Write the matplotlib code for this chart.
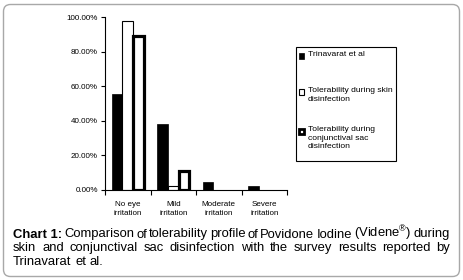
import matplotlib
matplotlib.use("Agg")
import matplotlib.pyplot as plt
import numpy as np
from matplotlib.patches import Rectangle, FancyBboxPatch
from matplotlib.transforms import IdentityTransform

plt.rcParams['font.family'] = ['Liberation Sans', 'DejaVu Sans']
plt.rcParams['mathtext.fontset'] = 'custom'
plt.rcParams['mathtext.rm'] = 'Liberation Sans'

# data
categories = ["No eye\nirritation", "Mild\nirritation", "Moderate\nirritation", "Severe\nirritation"]
trinavarat = [0.555, 0.382, 0.046, 0.025]
skin = [0.9778, 0.0222, 0.0, 0.0]
conjunctival = [0.8889, 0.1111, 0.0, 0.0]
series_names = ["Trinavarat et al",
                "Tolerability during skin\ndisinfection",
                "Tolerability during\nconjunctival sac\ndisinfection"]
yticks = [0, 0.2, 0.4, 0.6, 0.8, 1.0]

W, H = 463, 280
fig = plt.figure(figsize=(W / 100, H / 100), dpi=100)

# rounded frame around everything
frame = FancyBboxPatch((3.5, 3.5), W - 7, H - 8, boxstyle="round,pad=0,rounding_size=7",
                       transform=IdentityTransform(), facecolor="none",
                       edgecolor="#a8a8a8", linewidth=1.0, zorder=-5)
fig.add_artist(frame)

ax = fig.add_axes([105 / W, 90 / H, 182 / W, 173 / H])
ax.patch.set_alpha(0)
x = np.arange(len(categories))
bw = 0.235
fs = 5.8

ax.bar(x - bw, trinavarat, bw, color="black", edgecolor="black", linewidth=0.5)
ax.bar(x, skin, bw, color="white", edgecolor="black",
       linewidth=[0.8 if v > 0 else 0 for v in skin])
ax.bar(x + bw, conjunctival, bw, color="white", edgecolor="black",
       linewidth=[2.3 if v > 0 else 0 for v in conjunctival])

ax.set_xlim(-0.5, len(categories) - 0.5)
ax.set_ylim(0, 1.0)
ax.set_yticks(yticks)
ax.set_yticklabels(["%.2f%%" % (v * 100) for v in yticks], fontsize=fs)
ax.tick_params(axis="y", length=3, width=0.8, pad=2)
ax.set_xticks(np.arange(-0.5, len(categories)))
ax.set_xticklabels([])
ax.tick_params(axis="x", which="major", length=3.5, width=0.8)
ax.set_xticks(x, minor=True)
ax.set_xticklabels(categories, minor=True, fontsize=fs, linespacing=1.45)
ax.tick_params(axis="x", which="minor", length=0, pad=8)
for s in ["top", "right"]:
    ax.spines[s].set_visible(False)
for s in ["left", "bottom"]:
    ax.spines[s].set_linewidth(0.8)

# legend box, drawn by hand so the markers sit on the first text line
def px(xp, yp):
    return xp / W, 1 - yp / H

lx0, ly0, lx1, ly1 = 296, 47, 396, 161
fig.add_artist(Rectangle(px(lx0, ly1), (lx1 - lx0) / W, (ly1 - ly0) / H,
                         transform=fig.transFigure, facecolor="white",
                         edgecolor="black", linewidth=0.8))
entry_y = [56, 92, 131]
styles = [dict(facecolor="black", edgecolor="black", linewidth=0.5),
          dict(facecolor="white", edgecolor="black", linewidth=0.8),
          dict(facecolor="white", edgecolor="black", linewidth=2.0)]
for yy, name, st in zip(entry_y, series_names, styles):
    fig.add_artist(Rectangle(px(299, yy + 2.5), 5 / W, 5 / H,
                             transform=fig.transFigure, **st))
    fig.text(*px(308, yy - 5), name, fontsize=6.1, va="top", ha="left",
             linespacing=1.35)

# caption, justified like the source
cap_lines = [
    [("Chart 1:", True), ("Comparison", False), ("of", False), ("tolerability", False),
     ("profile", False), ("of", False), ("Povidone", False), ("Iodine", False),
     ("(Videne$^{\u00ae}$)", False), ("during", False)],
    [("skin", False), ("and", False), ("conjunctival", False), ("sac", False),
     ("disinfection", False), ("with", False), ("the", False), ("survey", False),
     ("results", False), ("reported", False), ("by", False)],
    [("Trinavarat", False), ("et", False), ("al.", False)],
]
cap_fs = 9.4
base_y = [237.5, 251.2, 264.9]
x_left, x_right = 13, 450
renderer = fig.canvas.get_renderer()
space = fig.text(0, 0, "a a", fontsize=cap_fs)
sp_w = space.get_window_extent(renderer).width
aa = fig.text(0, 0, "aa", fontsize=cap_fs)
sp_w -= aa.get_window_extent(renderer).width
space.remove()
aa.remove()
for li, (words, yb) in enumerate(zip(cap_lines, base_y)):
    texts = []
    for w, bold in words:
        t = fig.text(0, 1 - yb / H, w, fontsize=cap_fs, va="baseline", ha="left",
                     fontweight="bold" if bold else "normal")
        texts.append(t)
    widths = [t.get_window_extent(renderer).width for t in texts]
    if li < len(cap_lines) - 1:
        gap = (x_right - x_left - sum(widths)) / (len(texts) - 1)
    else:
        gap = sp_w
    cx = x_left
    for t, wd in zip(texts, widths):
        t.set_x(cx / W)
        cx += wd + gap

fig.savefig("out.png", dpi=100)
